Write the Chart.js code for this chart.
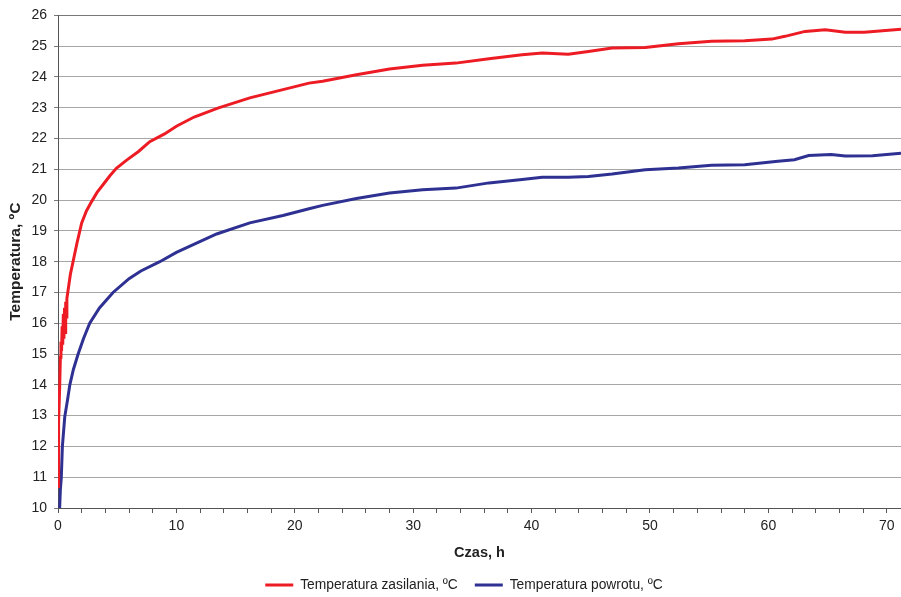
<!DOCTYPE html>
<html>
<head>
<meta charset="utf-8">
<script src="https://cdn.jsdelivr.net/npm/chart.js@4/dist/chart.umd.min.js"></script>
<style>
  html, body { margin: 0; padding: 0; background: #ffffff; }
  #wrap { width: 901px; height: 597px; position: relative; }
</style>
</head>
<body>
<div id="wrap"><canvas id="c"></canvas></div>
<script>
// ---- Data ----
const seriesNames = ['Temperatura zasilania, ºC', 'Temperatura powrotu, ºC'];

const timeZasilania = [0, 0.02, 0.08, 0.14, 0.2, 0.25, 0.3, 0.35, 0.4, 0.45, 0.5, 0.55, 0.6, 0.65, 0.7, 0.75,
  0.9, 1.05, 1.27, 1.6, 2.0, 2.4, 2.85, 3.3, 3.8, 4.4, 4.95, 5.8, 6.8, 7.75, 9.0, 10.0, 11.5, 13.5, 16.2,
  19.0, 21.2, 22.35, 25.2, 28.0, 30.8, 33.6, 36.4, 39.2, 40.9, 43.1, 44.8, 46.8, 49.6, 52.4, 55.2, 58.0,
  60.3, 61.4, 63.1, 64.8, 66.5, 68.1, 71.2];
const tempZasilania = [10.7, 11.8, 12.8, 13.9, 14.9, 15.4, 15.1, 15.9, 15.3, 16.3, 15.5, 16.5, 15.7, 16.7, 16.2, 16.8,
  17.2, 17.6, 18.0, 18.6, 19.26, 19.65, 19.96, 20.25, 20.5, 20.8, 21.04, 21.3, 21.58, 21.9, 22.15, 22.4, 22.7, 22.99, 23.32,
  23.59, 23.8, 23.86, 24.07, 24.26, 24.38, 24.45, 24.59, 24.72, 24.78, 24.74, 24.83, 24.94, 24.96, 25.08, 25.16, 25.18,
  25.23, 25.32, 25.48, 25.53, 25.45, 25.45, 25.55];

const timePowrotu = [0.14, 0.2, 0.28, 0.37, 0.57, 0.8, 1.0, 1.3, 1.7, 2.15, 2.68, 3.5, 4.65, 6.0, 7.0, 8.6, 10.0,
  13.4, 16.2, 19.0, 21.2, 22.35, 25.2, 28.0, 30.8, 33.6, 36.4, 39.2, 40.9, 43.1, 44.8, 46.8, 49.6, 52.4, 55.2,
  58.0, 60.8, 62.2, 63.4, 65.3, 66.5, 68.8, 71.2];
const tempPowrotu = [10.0, 10.6, 11.0, 12.0, 12.96, 13.5, 14.0, 14.5, 15.0, 15.5, 16.0, 16.5, 17.0, 17.45, 17.7, 18.0, 18.3,
  18.9, 19.26, 19.5, 19.72, 19.83, 20.05, 20.23, 20.34, 20.39, 20.56, 20.67, 20.74, 20.74, 20.77, 20.85, 20.99, 21.04, 21.13,
  21.15, 21.26, 21.31, 21.45, 21.48, 21.43, 21.44, 21.52];

const xAxisTitle = 'Czas, h';
const yAxisTitle = 'Temperatura, ºC';
const xLabelEvery = 10;

// ---- Build chart ----
const toPoints = (xs, ys) => xs.map((x, i) => ({ x: x, y: ys[i] }));
const FONT = "'Liberation Sans', Arial, sans-serif";

// shifts the centred legend row slightly to the right, as in the reference
const legendShift = {
  id: 'legendShift',
  afterLayout(chart) { if (chart.legend) { chart.legend.left += 27; } }
};

new Chart(document.getElementById('c'), {
  type: 'line',
  data: {
    datasets: [
      { label: seriesNames[0], data: toPoints(timeZasilania, tempZasilania),
        borderColor: '#ed1c24', backgroundColor: '#ed1c24', borderWidth: 3,
        pointRadius: 0, tension: 0, fill: false },
      { label: seriesNames[1], data: toPoints(timePowrotu, tempPowrotu),
        borderColor: '#2e3192', backgroundColor: '#2e3192', borderWidth: 3,
        pointRadius: 0, tension: 0, fill: false }
    ]
  },
  plugins: [legendShift],
  options: {
    responsive: true,
    maintainAspectRatio: false,
    animation: false,
    events: [],
    layout: { padding: { top: 3.5, left: 0, right: 0, bottom: 0 } },
    plugins: {
      legend: {
        position: 'bottom',
        maxHeight: 36,
        labels: {
          font: { family: FONT, size: 13.8 },
          color: '#222',
          boxWidth: 28,
          boxHeight: 0,
          padding: 17
        }
      },
      tooltip: { enabled: false }
    },
    scales: {
      x: {
        type: 'linear',
        min: 0,
        max: 71.2,
        ticks: {
          stepSize: 2,
          includeBounds: false,
          autoSkip: false,
          maxRotation: 0,
          color: '#222',
          font: { family: FONT, size: 14 },
          padding: 5,
          callback: (v) => (v % xLabelEvery === 0 ? String(v) : '')
        },
        grid: { drawOnChartArea: false, drawTicks: true, tickLength: 5, color: '#555' },
        border: { color: '#555', width: 1 },
        title: { display: true, text: xAxisTitle, color: '#222',
          font: { family: FONT, size: 14.5, weight: 'bold' }, padding: { top: 0, bottom: -1 } },
        afterFit: (scale) => { scale.height = 53; }
      },
      y: {
        min: 10,
        max: 26,
        ticks: {
          stepSize: 1,
          color: '#222',
          font: { family: FONT, size: 14 },
          padding: 7
        },
        grid: {
          color: (ctx) => (ctx.tick && ctx.tick.value === 26 ? '#777' : '#a6a6a6'),
          lineWidth: 1,
          tickLength: 4,
          tickColor: '#777'
        },
        border: { color: '#555', width: 1 },
        title: { display: true, text: yAxisTitle, color: '#222',
          font: { family: FONT, size: 15.5, weight: 'bold' }, padding: { top: 6, bottom: 0 } },
        afterFit: (scale) => { scale.width = 58; }
      }
    }
  }
});
</script>
</body>
</html>
